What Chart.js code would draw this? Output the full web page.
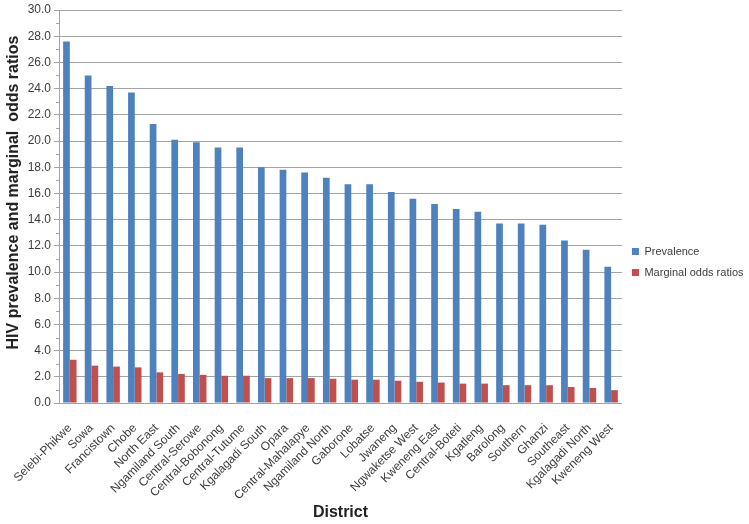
<!DOCTYPE html>
<html>
<head>
<meta charset="utf-8">
<script src="https://cdn.jsdelivr.net/npm/chart.js@4"></script>
<style>
  html, body { margin: 0; padding: 0; background: #fff; }
  #wrap { width: 749px; height: 524px; }
</style>
</head>
<body>
<div id="wrap"><canvas id="districtChart" width="749" height="524"></canvas></div>
<script>
const districts = ['Selebi-Phikwe', 'Sowa', 'Francistown', 'Chobe', 'North East', 'Ngamiland South',
    'Central-Serowe', 'Central-Bobonong', 'Central-Tutume', 'Kgalagadi South', 'Opara', 'Central-Mahalapye',
    'Ngamiland North', 'Gaborone', 'Lobatse', 'Jwaneng', 'Ngwaketse West', 'Kweneng East', 'Central-Boteti',
    'Kgatleng', 'Barolong', 'Southern', 'Ghanzi', 'Southeast', 'Kgalagadi North', 'Kweneng West'];
const prevalence = [27.6, 25.0, 24.2, 23.7, 21.3, 20.1, 19.9, 19.5, 19.5, 18.0, 17.8, 17.6, 17.2,
    16.7, 16.7, 16.1, 15.6, 15.2, 14.8, 14.6, 13.7, 13.7, 13.6, 12.4, 11.7, 10.4];
const oddsRatios = [3.3, 2.85, 2.78, 2.72, 2.34, 2.22, 2.15, 2.08, 2.08, 1.9, 1.9, 1.9, 1.85,
    1.78, 1.78, 1.7, 1.62, 1.56, 1.48, 1.48, 1.36, 1.36, 1.36, 1.22, 1.15, 0.98];
const yTicks = [0, 30, 2];       // min, max, step
const minorTicks = [1, 3, 5, 7, 9, 11, 13, 15, 17, 19, 21, 23, 25, 27, 29];
const yTitle = 'HIV prevalence and marginal  odds ratios';

const gridColor = '#a4a4a4';
const textColor = '#3c3c3c';
const font = 'Liberation Sans, Arial, sans-serif';

// short tick marks at the odd values, like the Excel original
const minorTickPlugin = {
    id: 'minorTicks',
    afterDraw(chart) {
        const y = chart.scales.y;
        const ctx = chart.ctx;
        ctx.save();
        ctx.strokeStyle = gridColor;
        ctx.lineWidth = 1;
        minorTicks.forEach(v => {
            const py = Math.round(y.getPixelForValue(v)) + 0.5;
            ctx.beginPath();
            ctx.moveTo(y.right - 3, py);
            ctx.lineTo(y.right, py);
            ctx.stroke();
        });
        ctx.restore();
    }
};

// y title sits a bit above the middle of the axis in the original
const yTitlePlugin = {
    id: 'yTitle',
    afterDraw(chart) {
        const area = chart.chartArea;
        const ctx = chart.ctx;
        ctx.save();
        ctx.translate(14, (area.top + area.bottom) / 2 - 14);
        ctx.rotate(-Math.PI / 2);
        ctx.font = 'bold 16px ' + font;
        ctx.fillStyle = '#222';
        ctx.textAlign = 'center';
        ctx.textBaseline = 'middle';
        ctx.fillText(yTitle, 0, 0);
        ctx.restore();
    }
};

const ctx = document.getElementById('districtChart').getContext('2d');
new Chart(ctx, {
    type: 'bar',
    data: {
        labels: districts,
        datasets: [
            { label: 'Prevalence', data: prevalence, backgroundColor: '#4f81bd' },
            { label: 'Marginal odds ratios', data: oddsRatios, backgroundColor: '#c0504d' }
        ]
    },
    options: {
        responsive: false,
        animation: false,
        devicePixelRatio: 1,
        layout: { padding: { top: 0, left: 0, bottom: 0, right: -4.5 } },
        datasets: { bar: { categoryPercentage: 0.62, barPercentage: 1.0 } },
        plugins: {
            tooltip: { enabled: false },
            legend: {
                position: 'right',
                labels: { boxWidth: 7, boxHeight: 7, padding: 10, color: textColor, font: { family: font, size: 11 } }
            }
        },
        scales: {
            x: {
                grid: { display: false },
                border: { display: true, color: gridColor },
                ticks: { minRotation: 45, maxRotation: 45, padding: 10, color: textColor, autoSkip: false,
                    font: { family: font, size: 12 } },
                title: { display: true, text: 'District', color: '#222', padding: { top: 4, bottom: 2 },
                    font: { family: font, size: 16, weight: 'bold' } },
                afterFit: s => { s.height = 121; }
            },
            y: {
                min: yTicks[0],
                max: yTicks[1],
                grid: { color: gridColor, tickLength: 5 },
                border: { display: true, color: gridColor },
                ticks: { stepSize: yTicks[2], padding: 3, color: textColor, font: { family: font, size: 12 },
                    callback: v => v.toFixed(1) },
                afterFit: s => { s.width = 59; s.paddingTop = 10; }
            }
        }
    },
    plugins: [minorTickPlugin, yTitlePlugin]
});
</script>
</body>
</html>
